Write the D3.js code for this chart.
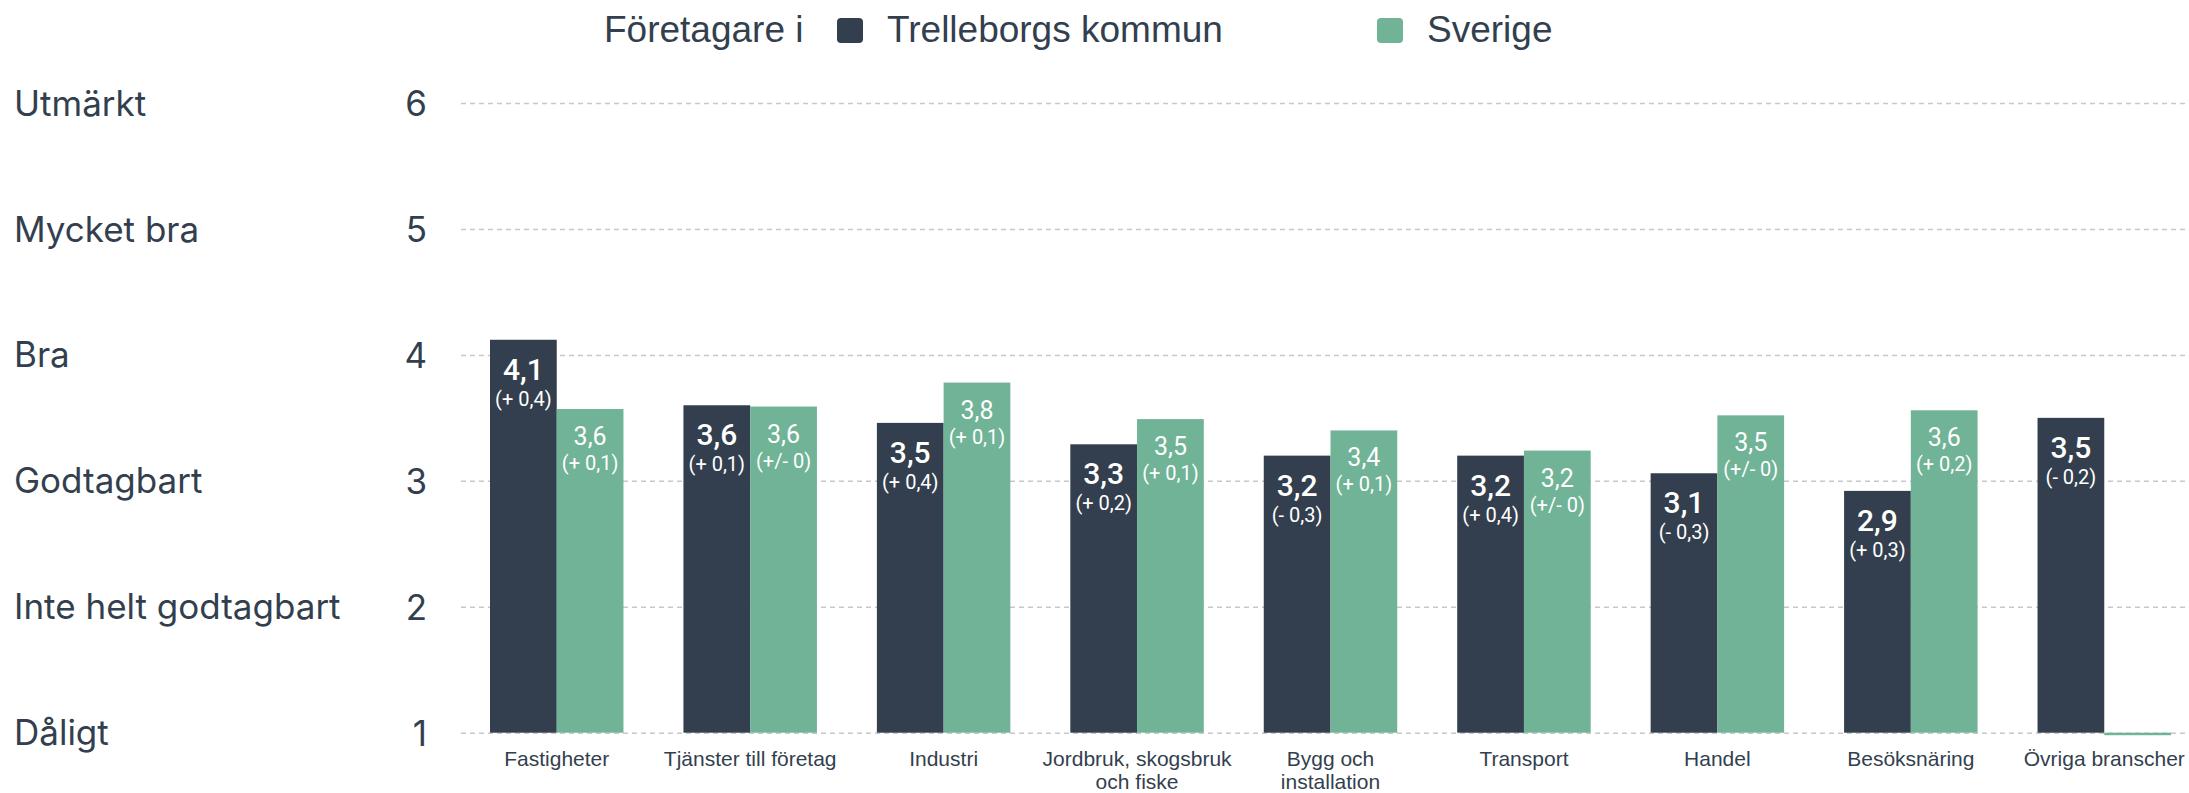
<!DOCTYPE html>
<html>
<head>
<meta charset="utf-8">
<script src="https://cdn.jsdelivr.net/npm/d3@7"></script>
<style>
  body { margin: 0; background: #fff; }
  svg { display: block; }
</style>
</head>
<body>
<div id="chart"></div>
<script>
// Företagare i Trelleborgs kommun vs Sverige, per bransch
const categories = [
  ["Fastigheter"], ["Tjänster till företag"], ["Industri"],
  ["Jordbruk, skogsbruk", "och fiske"], ["Bygg och", "installation"],
  ["Transport"], ["Handel"], ["Besöksnäring"], ["Övriga branscher"]
];
const series = ["Trelleborgs kommun", "Sverige"];
const kommun = [4.12, 3.60, 3.46, 3.29, 3.20, 3.20, 3.06, 2.92, 3.50];
const kommunChange = ["(+ 0,4)", "(+ 0,1)", "(+ 0,4)", "(+ 0,2)", "(- 0,3)", "(+ 0,4)", "(- 0,3)", "(+ 0,3)", "(- 0,2)"];
const sverige = [3.57, 3.59, 3.78, 3.49, 3.40, 3.24, 3.52, 3.56, null];
const sverigeChange = ["(+ 0,1)", "(+/- 0)", "(+ 0,1)", "(+ 0,1)", "(+ 0,1)", "(+/- 0)", "(+/- 0)", "(+ 0,2)", null];
const yTicks = [1, 2, 3, 4, 5, 6];
const yTickLabels = ["Dåligt", "Inte helt godtagbart", "Godtagbart", "Bra", "Mycket bra", "Utmärkt"];

const width = 2189, height = 793;
const colors = {dark: "#333f4e", green: "#70b396", text: "#333f4e", grid: "#c8c8c8"};
const fmt = d3.formatLocale({decimal: ",", thousands: " ", grouping: [3], currency: ["", ""]}).format(".1f");

const svg = d3.select("#chart").append("svg")
  .attr("width", width).attr("height", height);

const keys = categories.map((c, i) => i);
const x0 = d3.scaleBand().domain(keys).range([490, 2171]).paddingInner(0.31);
const x1 = d3.scaleBand().domain(series).range([0, x0.bandwidth()]);
const y = d3.scaleLinear().domain([1, 6]).range([732.7, 103]);
const color = d3.scaleOrdinal().domain(series).range([colors.dark, colors.green]);

// grid + tick numbers
const gridLeft = 461;
const yAxis = svg.append("g")
  .attr("transform", `translate(${gridLeft},0)`)
  .call(d3.axisLeft(y).tickValues(yTicks).tickFormat(d3.format("d"))
    .tickSize(-(width - gridLeft)).tickPadding(34));
yAxis.select(".domain").remove();
yAxis.selectAll(".tick line")
  .attr("stroke", colors.grid).attr("stroke-width", 1.5).attr("stroke-dasharray", "5,4");
yAxis.selectAll(".tick text")
  .attr("fill", colors.text).attr("font-family", "Inter, sans-serif")
  .attr("font-size", 35).attr("dy", "0.36em");

// rating labels on the far left
svg.append("g").selectAll("text")
  .data(yTicks)
  .join("text")
    .attr("x", 14).attr("y", d => y(d)).attr("dy", "0.36em")
    .attr("fill", colors.text).attr("font-family", "Inter, sans-serif").attr("font-size", 35)
    .text((d, i) => yTickLabels[i]);

// bars
const rows = keys.map(i => ({
  i,
  bars: [
    {key: series[0], value: kommun[i], change: kommunChange[i]},
    {key: series[1], value: sverige[i], change: sverigeChange[i]}
  ]
}));

const groups = svg.append("g").selectAll("g")
  .data(rows)
  .join("g")
    .attr("transform", d => `translate(${x0(d.i)},0)`);

groups.selectAll("rect")
  .data(d => d.bars)
  .join("rect")
    .attr("x", d => x1(d.key))
    .attr("width", x1.bandwidth())
    .attr("y", d => d.value == null ? y(1) : y(d.value))
    .attr("height", d => d.value == null ? 2.5 : y(1) - y(d.value))
    .attr("fill", d => color(d.key));

// value labels inside bars
const lab = groups.selectAll("g.lab")
  .data(d => d.bars.filter(b => b.value != null))
  .join("g").attr("class", "lab")
    .attr("transform", d => `translate(${x1(d.key) + x1.bandwidth() / 2},${y(d.value)})`);

lab.append("text")
  .attr("text-anchor", "middle").attr("fill", "#fff")
  .attr("font-family", "Roboto, sans-serif")
  .attr("font-size", d => d.key === series[0] ? 30 : 25)
  .attr("font-weight", d => d.key === series[0] ? 500 : 400)
  .attr("y", d => d.key === series[0] ? 40 : 36)
  .text(d => fmt(d.value));

lab.append("text")
  .attr("text-anchor", "middle").attr("fill", "#fff")
  .attr("font-family", "Roboto, sans-serif")
  .attr("font-size", 20)
  .attr("y", d => d.key === series[0] ? 66 : 61)
  .text(d => d.change);

// category labels
groups.append("text")
  .attr("x", x0.bandwidth() / 2)
  .attr("text-anchor", "middle").attr("fill", colors.text)
  .attr("font-family", "Arial, 'Liberation Sans', sans-serif").attr("font-size", 21)
  .selectAll("tspan")
  .data(d => categories[d.i])
  .join("tspan")
    .attr("x", x0.bandwidth() / 2)
    .attr("y", (d, j) => 766 + j * 23)
    .text(d => d);

// legend
const legend = svg.append("g").attr("font-family", "Arial, 'Liberation Sans', sans-serif")
  .attr("font-size", 37).attr("fill", colors.text);
legend.append("text").attr("x", 604).attr("y", 42).text("Företagare i");
const legendX = [837, 1377];
const item = legend.selectAll("g.item")
  .data(series)
  .join("g").attr("class", "item")
    .attr("transform", (d, i) => `translate(${legendX[i]},0)`);
item.append("rect")
  .attr("y", 18).attr("width", 26).attr("height", 25).attr("rx", 4)
  .attr("fill", d => color(d));
item.append("text").attr("x", 50).attr("y", 42).text(d => d);
</script>
</body>
</html>
